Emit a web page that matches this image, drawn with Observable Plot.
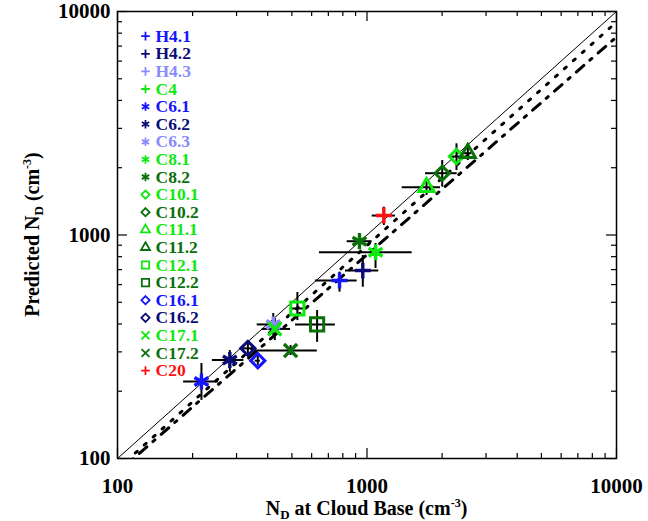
<!DOCTYPE html>
<html><head><meta charset="utf-8">
<script src="https://cdn.jsdelivr.net/npm/d3@7"></script>
<script src="https://cdn.jsdelivr.net/npm/@observablehq/plot@0.6"></script>
<style>body{margin:0;background:#fff}#chart{width:648px;height:521px}</style>
</head><body><div id="chart"></div>
<script>
// Legend series (all cases)
const seriesNames = ["H4.1","H4.2","H4.3","C4","C6.1","C6.2","C6.3","C8.1","C8.2","C10.1","C10.2","C11.1","C11.2","C12.1","C12.2","C16.1","C16.2","C17.1","C17.2","C20"];

// Plotted points: observed N_D at cloud base (x) and predicted N_D (y), with error ranges
const pointNames = ["C6.1","C6.2","C16.2","C16.1","C17.2","C6.3","C17.1","C12.1","C12.2","H4.1","H4.2","C8.1","C8.2","C20","C11.1","C10.2","C10.1","C11.2"];
const obsND   = [217, 282, 333, 365, 494, 421, 427, 526, 631, 776, 962, 1082, 933, 1168, 1732, 2002, 2284, 2535];
const obsLo   = [184, 240, 316, 356, 352, 363, 380, 494, 517, 622, 820, 645, 833, 1049, 1384, 1716, 2161, 2437];
const obsHi   = [254, 321, 352, 374, 632, 450, 494, 567, 747, 913, 1115, 1517, 1049, 1301, 1970, 2299, 2407, 2630];
const predND  = [221, 276, 311, 274, 304, 398, 380, 469, 398, 626, 694, 838, 938, 1222, 1637, 1890, 2245, 2323];
const predLo  = [182, 243, 289, 261, 289, 355, 337, 414, 331, 555, 584, 708, 870, 1103, 1502, 1637, 1944, 2154];
const predHi  = [266, 304, 337, 289, 320, 445, 423, 553, 459, 682, 810, 916, 1016, 1332, 1753, 2154, 2559, 2514];

// Reference lines
const oneToOneX = [100, 10000], oneToOneY = [100, 10000];
const dottedX = [100, 10000], dottedY = [89.8, 8975];
const dashDotX = [100, 10000], dashDotY = [86.6, 7690];

const axisTicks = [100, 1000, 10000];
const minorTicks = [200,300,400,500,600,700,800,900,2000,3000,4000,5000,6000,7000,8000,9000];

// Styles
const blue = "#1414ff", navy = "#0c0c78", lightBlue = "#8a8aff", green = "#10e810", dark = "#0a700a", red = "#ff1010";
const colorOf = {"H4.1":blue,"H4.2":navy,"H4.3":lightBlue,"C4":green,"C6.1":blue,"C6.2":navy,"C6.3":lightBlue,"C8.1":green,"C8.2":dark,"C10.1":green,"C10.2":dark,"C11.1":green,"C11.2":dark,"C12.1":green,"C12.2":dark,"C16.1":blue,"C16.2":navy,"C17.1":green,"C17.2":dark,"C20":red};
const symbolOf = n => /^(H4|C4|C20)/.test(n) ? "plus" : /^(C6|C8)/.test(n) ? "asterisk" : /^(C10|C16)/.test(n) ? "diamond2" : /^C11/.test(n) ? "triangle2" : /^C12/.test(n) ? "square2" : "times";
const rData = {plus: 5.2, asterisk: 7.6, diamond2: 6.4, triangle2: 7.2, square2: 8.4, times: 6};
const rLegend = {plus: 2.9, asterisk: 4, diamond2: 3.7, triangle2: 4.3, square2: 4.7, times: 3.7};

const pts = pointNames.map((n, i) => ({name: n, x: obsND[i], xlo: obsLo[i], xhi: obsHi[i], y: predND[i], ylo: predLo[i], yhi: predHi[i]}));

const ML = 117, MR = 32, MT = 11, MB = 63, W = 648, H = 521;
const pw = W - ML - MR, ph = H - MT - MB;
const FONT = "'Liberation Serif','Times New Roman',serif";

const marks = [
  Plot.line(oneToOneX.map((x, i) => [x, oneToOneY[i]]), {x: "0", y: "1", stroke: "black", strokeWidth: 1, clip: true}),
  Plot.line(dottedX.map((x, i) => [x, dottedY[i]]), {x: "0", y: "1", stroke: "black", strokeWidth: 3, strokeDasharray: "2.4,9.6", clip: true}),
  Plot.line(dashDotX.map((x, i) => [x, dashDotY[i]]), {x: "0", y: "1", stroke: "black", strokeWidth: 3, strokeDasharray: "10,8,2.6,8.4", clip: true}),
  Plot.ruleY(pts, {y: "y", x1: "xlo", x2: "xhi", stroke: "black", strokeWidth: 2}),
  Plot.ruleX(pts, {x: "x", y1: "ylo", y2: "yhi", stroke: "black", strokeWidth: 2}),
];
for (const n of seriesNames) {
  const s = symbolOf(n);
  const sub = pts.filter(p => p.name === n);
  if (sub.length) marks.push(Plot.dot(sub, {x: "x", y: "y", symbol: s, r: rData[s], stroke: colorOf[n], strokeWidth: s === "asterisk" || s === "plus" || s === "times" ? 3.4 : 3, fill: "none"}));
}
seriesNames.forEach((n, i) => {
  const s = symbolOf(n);
  const dy = 24.7 + 17.6 * i;
  marks.push(Plot.dot([n], {frameAnchor: "top-left", dx: 28, dy, symbol: s, r: rLegend[s], stroke: colorOf[n], strokeWidth: 1.8, fill: "none"}));
  marks.push(Plot.text([n], {frameAnchor: "top-left", lineAnchor: "middle", dx: 38, dy, text: d => d, textAnchor: "start", fill: colorOf[n], fontSize: 17.5, fontWeight: "bold"}));
});
marks.push(
  Plot.frame({stroke: "black", strokeWidth: 1.5}),
  Plot.ruleX(minorTicks, {x: d => d, insetTop: ph - 5, stroke: "black", strokeWidth: 1.2}),
  Plot.ruleX(minorTicks, {x: d => d, insetBottom: ph - 5, stroke: "black", strokeWidth: 1.2}),
  Plot.ruleX(axisTicks, {x: d => d, insetTop: ph - 10, stroke: "black", strokeWidth: 1.2}),
  Plot.ruleX(axisTicks, {x: d => d, insetBottom: ph - 10, stroke: "black", strokeWidth: 1.2}),
  Plot.ruleY(minorTicks, {y: d => d, insetRight: pw - 5, stroke: "black", strokeWidth: 1.2}),
  Plot.ruleY(minorTicks, {y: d => d, insetLeft: pw - 5, stroke: "black", strokeWidth: 1.2}),
  Plot.ruleY(axisTicks, {y: d => d, insetRight: pw - 10, stroke: "black", strokeWidth: 1.2}),
  Plot.ruleY(axisTicks, {y: d => d, insetLeft: pw - 10, stroke: "black", strokeWidth: 1.2}),
  Plot.axisX(axisTicks, {anchor: "bottom", tickSize: 0, tickPadding: 20, label: null, tickFormat: d => String(d), fontSize: 21, fontWeight: "bold", fill: "black"}),
  Plot.axisY(axisTicks, {anchor: "left", tickSize: 0, tickPadding: 7, label: null, tickFormat: d => String(d), fontSize: 21, fontWeight: "bold", fill: "black"})
);

const plot = Plot.plot({
  width: W, height: H,
  marginLeft: ML, marginRight: MR, marginTop: MT, marginBottom: MB,
  x: {type: "log", domain: [100, 10000]},
  y: {type: "log", domain: [100, 10000]},
  style: {fontFamily: FONT, background: "white", overflow: "visible", color: "black"},
  marks
});

const svg = d3.select(plot);
const cx = (ML + W - MR) / 2, cy = (MT + H - MB) / 2;
const xt = svg.append("text").attr("x", cx).attr("y", 515).attr("text-anchor", "middle")
  .attr("font-family", FONT).attr("font-weight", "bold").attr("font-size", 20).attr("fill", "black");
xt.append("tspan").text("N");
xt.append("tspan").attr("font-size", 13).attr("dy", 4).text("D");
xt.append("tspan").attr("dy", -4).text(" at Cloud Base (cm");
xt.append("tspan").attr("font-size", 12).attr("dy", -8).text("-3");
xt.append("tspan").attr("dy", 8).text(")");
const yt = svg.append("text").attr("transform", `translate(39,${cy}) rotate(-90)`).attr("text-anchor", "middle")
  .attr("font-family", FONT).attr("font-weight", "bold").attr("font-size", 20).attr("fill", "black");
yt.append("tspan").text("Predicted N");
yt.append("tspan").attr("font-size", 13).attr("dy", 4).text("D");
yt.append("tspan").attr("dy", -4).text(" (cm");
yt.append("tspan").attr("font-size", 12).attr("dy", -8).text("-3");
yt.append("tspan").attr("dy", 8).text(")");

document.getElementById("chart").appendChild(plot);
</script></body></html>
